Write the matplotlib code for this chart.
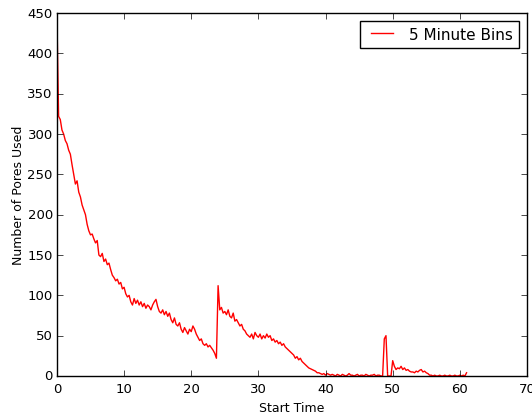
import numpy as np
import matplotlib
matplotlib.use('Agg')
import matplotlib.pyplot as plt

bin_step = 0.25
pores_used = [
    445, 322, 318, 305,   300, 292, 288, 280,   275, 262, 250, 238,
    242, 228, 222, 212,   206, 200, 188, 180,   175, 176, 170, 165,
    168, 150, 148, 152,   142, 145, 138, 140,   132, 125, 122, 118,
    120, 114, 116, 108,   110, 102, 98, 100,    92, 88, 96, 90,
    94, 88, 92, 86,       90, 84, 88, 86,       82, 88, 92, 95,
    86, 80, 78, 82,       76, 80, 74, 78,       70, 66, 72, 64,
    62, 66, 58, 54,       60, 56, 52, 58,       55, 62, 58, 52,
    48, 44, 46, 40,       38, 40, 36, 38,       35, 32, 28, 22,
    112, 82, 85, 78,      80, 76, 82, 74,       72, 78, 68, 70,
    66, 62, 64, 58,       56, 52, 50, 48,       52, 46, 54, 50,
    48, 52, 46, 50,       47, 52, 48, 50,       44, 46, 42, 44,
    40, 42, 38, 40,       36, 34, 32, 30,       28, 26, 22, 24,
    20, 22, 18, 16,       14, 12, 10, 9,        8, 7, 6, 4,
    4, 3, 2, 3,           1, 3, 2, 1,           2, 1, 0, 2,
    1, 0, 2, 1,           0, 1, 3, 1,           1, 0, 1, 2,
    0, 1, 1, 0,           2, 1, 0, 1,           1, 2, 0, 1,
    1, 0, 0, 46,          50, 0, 0, 0,          19, 12, 8, 10,
    9, 12, 8, 10,         7, 8, 6, 5,           5, 4, 6, 5,
    7, 8, 5, 6,           4, 3, 1, 1,           0, 1, 0, 0,
    1, 0, 0, 1,           0, 0, 1, 0,           0, 1, 0, 0,
    1, 0, 1, 0,           4,
]
start_time = np.arange(len(pores_used)) * bin_step

plt.style.use('classic')
fig = plt.figure(figsize=(5.32, 4.14), dpi=100, facecolor='white')
ax = fig.add_axes([0.107, 0.0894, 0.8836, 0.8766])

ax.plot(start_time, pores_used, color='red', linewidth=1.0, label='5 Minute Bins')

ax.set_xlim(0, 70)
ax.set_ylim(0, 450)
ax.set_xticks(range(0, 71, 10))
ax.set_yticks(range(0, 451, 50))
ax.tick_params(labelsize=9.5)
ax.tick_params(axis='y', pad=3)
ax.set_xlabel('Start Time', fontsize=9)
ax.set_ylabel('Number of Pores Used', fontsize=9, labelpad=2)
ax.legend(loc='upper right', fontsize=11)

fig.savefig('out.png', dpi=100, facecolor='white')
